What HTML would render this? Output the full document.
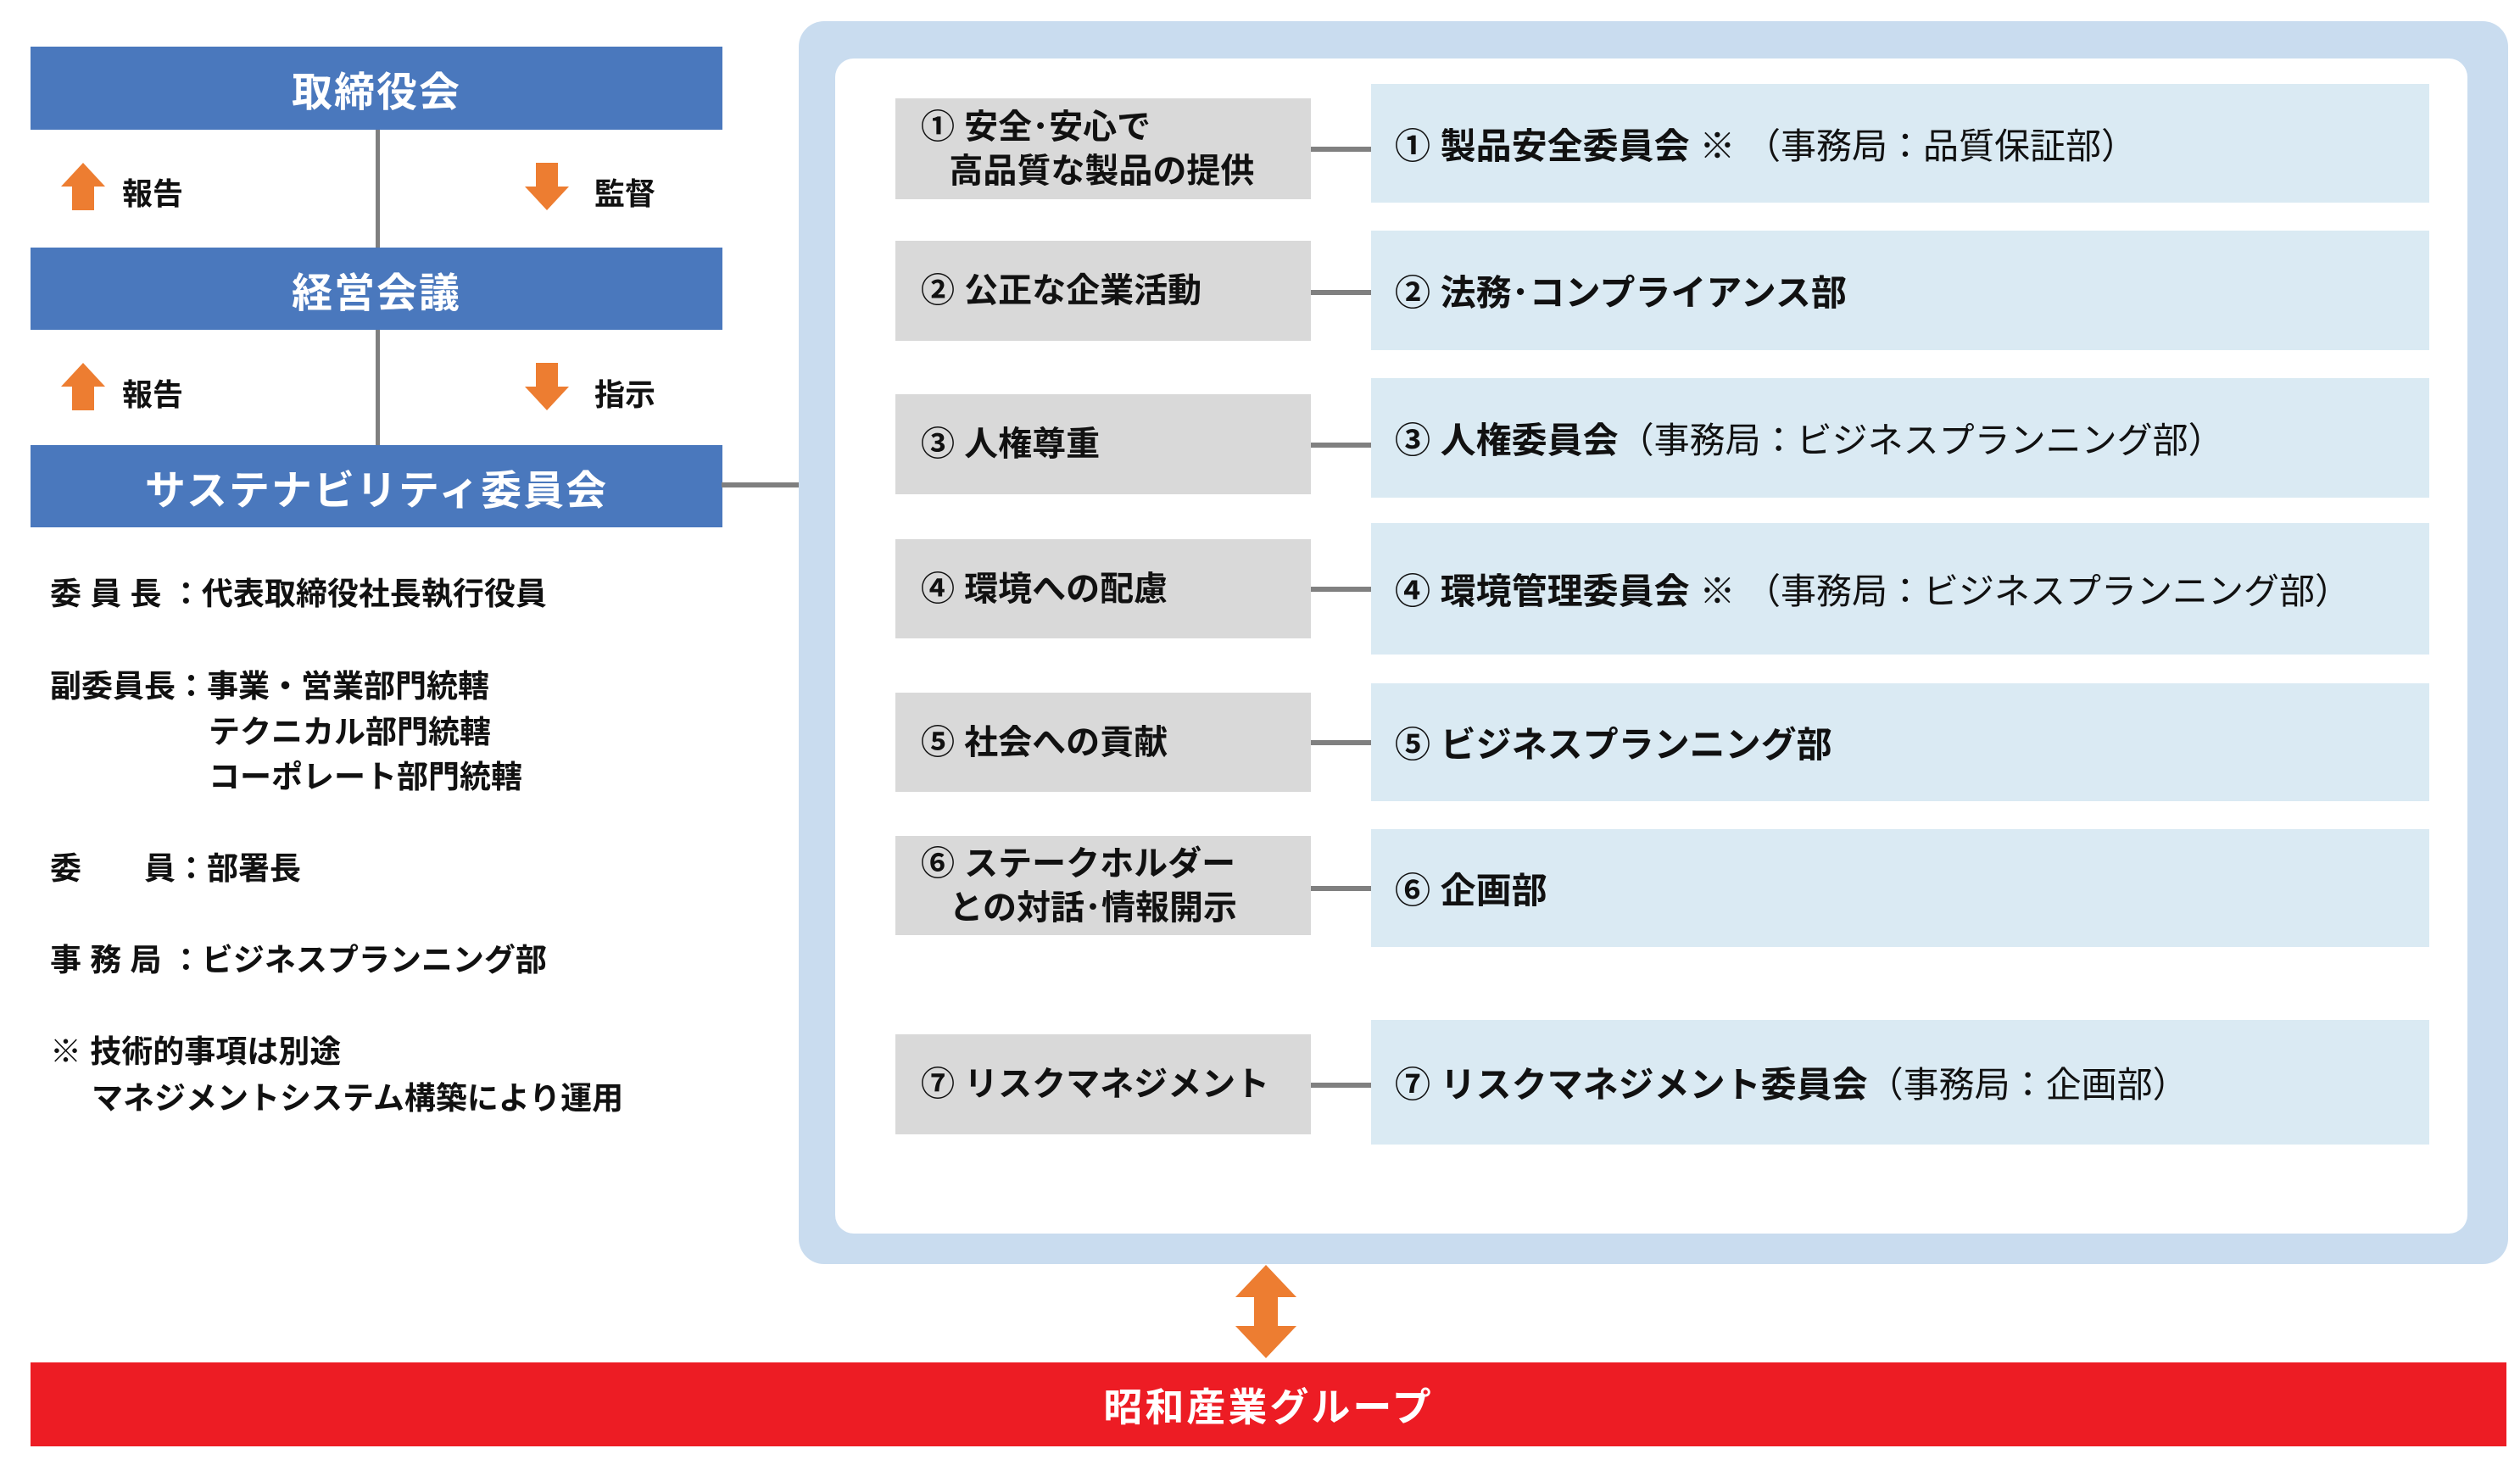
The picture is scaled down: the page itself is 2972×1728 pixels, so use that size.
<!DOCTYPE html>
<html><head><meta charset="utf-8"><style>
*{margin:0;padding:0;box-sizing:border-box}
body{width:2972px;height:1728px;background:#fff;position:relative;overflow:hidden;font-family:"Liberation Sans","Noto Sans CJK JP",sans-serif}
.a{position:absolute}
.blue{background:#4a78bd;color:#fff;font-weight:bold;font-size:48px;display:flex;align-items:center;justify-content:center;left:36px;width:816px;letter-spacing:2px}
.lbl{font-size:36px;font-weight:bold;color:#111}
.g{background:#d9d9d9;left:1056px;width:490px;display:flex;align-items:center;padding-left:30px;font-size:40px;font-weight:bold;color:#111;line-height:1.3}
.l{background:#daeaf3;left:1617px;width:1248px;display:flex;align-items:center;padding-left:28px;font-size:42px;font-weight:bold;color:#111}
.l span{font-weight:normal}
.c{background:#808080;left:1546px;width:71px;height:6px}
.n{font-size:37px;font-weight:bold;color:#111;left:59px;line-height:1}
</style></head><body>
<div class="a" style="left:443px;top:150px;width:5px;height:380px;background:#7f7f7f"></div>
<div class="a blue" style="top:55px;height:98px">取締役会</div>
<div class="a blue" style="top:292px;height:97px">経営会議</div>
<div class="a blue" style="top:525px;height:97px">サステナビリティ委員会</div>
<div class="a" style="left:851px;top:569px;width:92px;height:6px;background:#7f7f7f"></div>
<svg class="a" style="left:70px;top:190px" width="56" height="60"><polygon points="28,2 54,30 41,30 41,58 15,58 15,30 2,30" fill="#ed7d31"/></svg>
<svg class="a" style="left:70px;top:426px" width="56" height="60"><polygon points="28,2 54,30 41,30 41,58 15,58 15,30 2,30" fill="#ed7d31"/></svg>
<svg class="a" style="left:617px;top:190px" width="56" height="60"><polygon points="28,58 54,30 41,30 41,2 15,2 15,30 2,30" fill="#ed7d31"/></svg>
<svg class="a" style="left:617px;top:426px" width="56" height="60"><polygon points="28,58 54,30 41,30 41,2 15,2 15,30 2,30" fill="#ed7d31"/></svg>
<div class="a lbl" style="left:144px;top:200px">報告</div>
<div class="a lbl" style="left:144px;top:437px">報告</div>
<div class="a lbl" style="left:701px;top:200px">監督</div>
<div class="a lbl" style="left:701px;top:437px">指示</div>
<div class="a n" style="top:682px">委 員 長 ：代表取締役社長執行役員</div>
<div class="a n" style="top:791px">副委員長：事業・営業部門統轄</div>
<div class="a n" style="top:845px;left:246px">テクニカル部門統轄</div>
<div class="a n" style="top:898px;left:246px">コーポレート部門統轄</div>
<div class="a n" style="top:1006px">委　　員：部署長</div>
<div class="a n" style="top:1114px">事 務 局 ：ビジネスプランニング部</div>
<div class="a n" style="top:1222px">※ 技術的事項は別途</div>
<div class="a n" style="top:1277px;left:108px">マネジメントシステム構築により運用</div>
<div class="a" style="left:942px;top:25px;width:2016px;height:1466px;background:#c9dcef;border-radius:30px"></div>
<div class="a" style="left:985px;top:69px;width:1925px;height:1386px;background:#fff;border-radius:22px"></div>
<div class="a g" style="top:116px;height:119px">① 安全･安心で<br>&nbsp;&nbsp;&nbsp;高品質な製品の提供</div>
<div class="a g" style="top:284px;height:118px">② 公正な企業活動</div>
<div class="a g" style="top:465px;height:118px">③ 人権尊重</div>
<div class="a g" style="top:636px;height:117px">④ 環境への配慮</div>
<div class="a g" style="top:817px;height:117px">⑤ 社会への貢献</div>
<div class="a g" style="top:986px;height:117px">⑥ ステークホルダー<br>&nbsp;&nbsp;&nbsp;との対話･情報開示</div>
<div class="a g" style="top:1220px;height:118px">⑦ リスクマネジメント</div>
<div class="a c" style="top:173px"></div>
<div class="a c" style="top:342px"></div>
<div class="a c" style="top:522px"></div>
<div class="a c" style="top:692px"></div>
<div class="a c" style="top:873px"></div>
<div class="a c" style="top:1045px"></div>
<div class="a c" style="top:1277px"></div>
<div class="a l" style="top:99px;height:140px">① 製品安全委員会&nbsp;<span>※ （事務局：品質保証部）</span></div>
<div class="a l" style="top:272px;height:141px">② 法務･コンプライアンス部</div>
<div class="a l" style="top:446px;height:141px">③ 人権委員会<span>（事務局：ビジネスプランニング部）</span></div>
<div class="a l" style="top:617px;height:155px">④ 環境管理委員会&nbsp;<span>※ （事務局：ビジネスプランニング部）</span></div>
<div class="a l" style="top:806px;height:139px">⑤ ビジネスプランニング部</div>
<div class="a l" style="top:978px;height:139px">⑥ 企画部</div>
<div class="a l" style="top:1203px;height:147px">⑦ リスクマネジメント委員会<span>（事務局：企画部）</span></div>
<svg class="a" style="left:1455px;top:1490px" width="76" height="114"><polygon points="38,2 74,40 52,40 52,74 74,74 38,112 2,74 24,74 24,40 2,40" fill="#ed7d31"/></svg>
<div class="a" style="left:36px;top:1607px;width:2920px;height:99px;background:#ed1c24;color:#fff;font-weight:bold;font-size:46px;display:flex;align-items:center;justify-content:center;letter-spacing:3px">昭和産業グループ</div>
</body></html>
